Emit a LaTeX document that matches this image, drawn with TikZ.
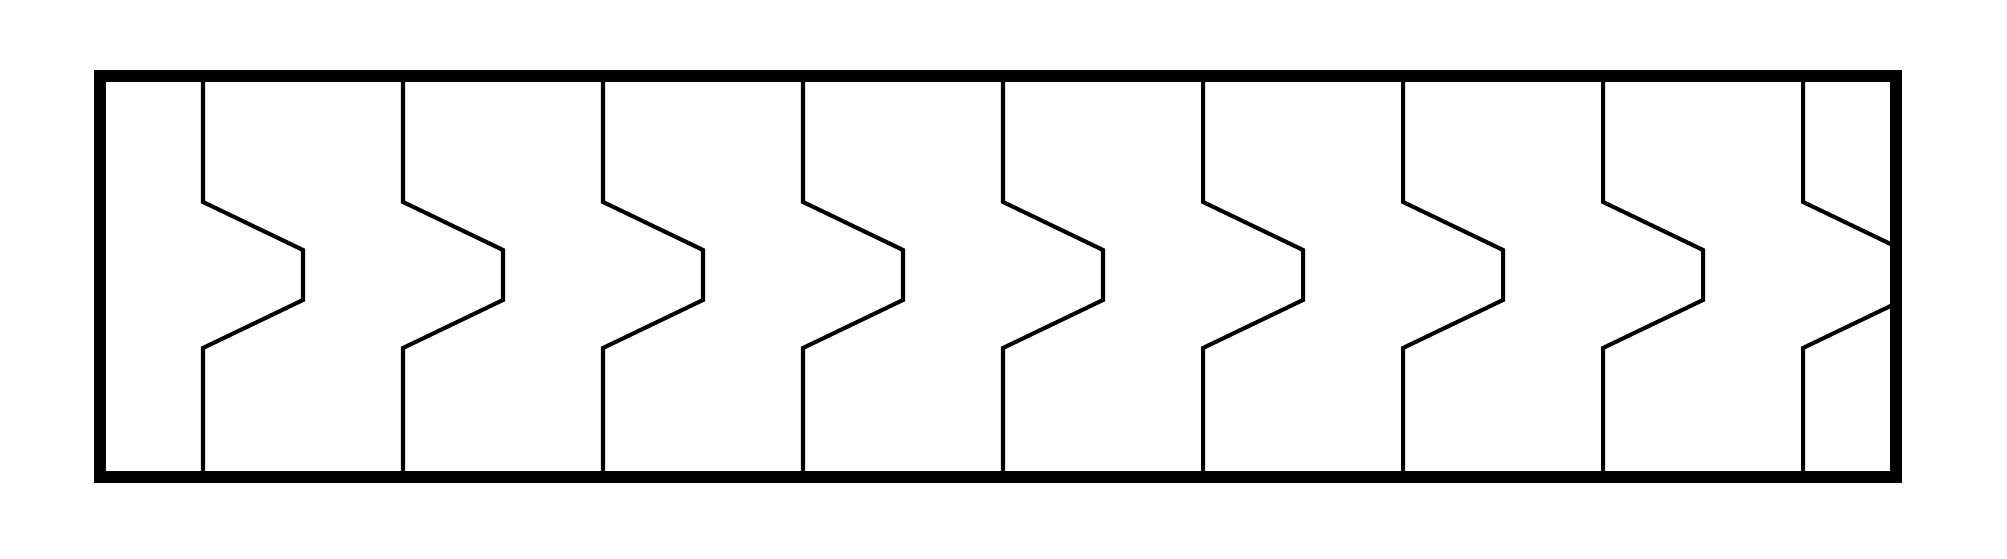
\documentclass[tikz,border=0pt]{standalone}
\usepackage{tikz}
\usetikzlibrary{calc}

\begin{document}
\begin{tikzpicture}[
    x=0.01cm, y=-0.01cm,
    frame/.style={draw=black, line width=3.4pt},
    notch/.style={draw=black, line width=1.15pt, line join=miter}
]
\useasboundingbox (0,0) rectangle (2007,559);

\coordinate (tl) at (100,76);
\coordinate (br) at (1896,477);

\begin{scope}
\clip (tl) rectangle (br);
\foreach \i in {0,...,8} {
    \draw[notch] ({203+200*\i},76) -- ({203+200*\i},202) -- ({303+200*\i},250)
        -- ({303+200*\i},300) -- ({203+200*\i},348) -- ({203+200*\i},477);
}
\end{scope}

\draw[frame] (tl) rectangle (br);
\end{tikzpicture}
\end{document}
